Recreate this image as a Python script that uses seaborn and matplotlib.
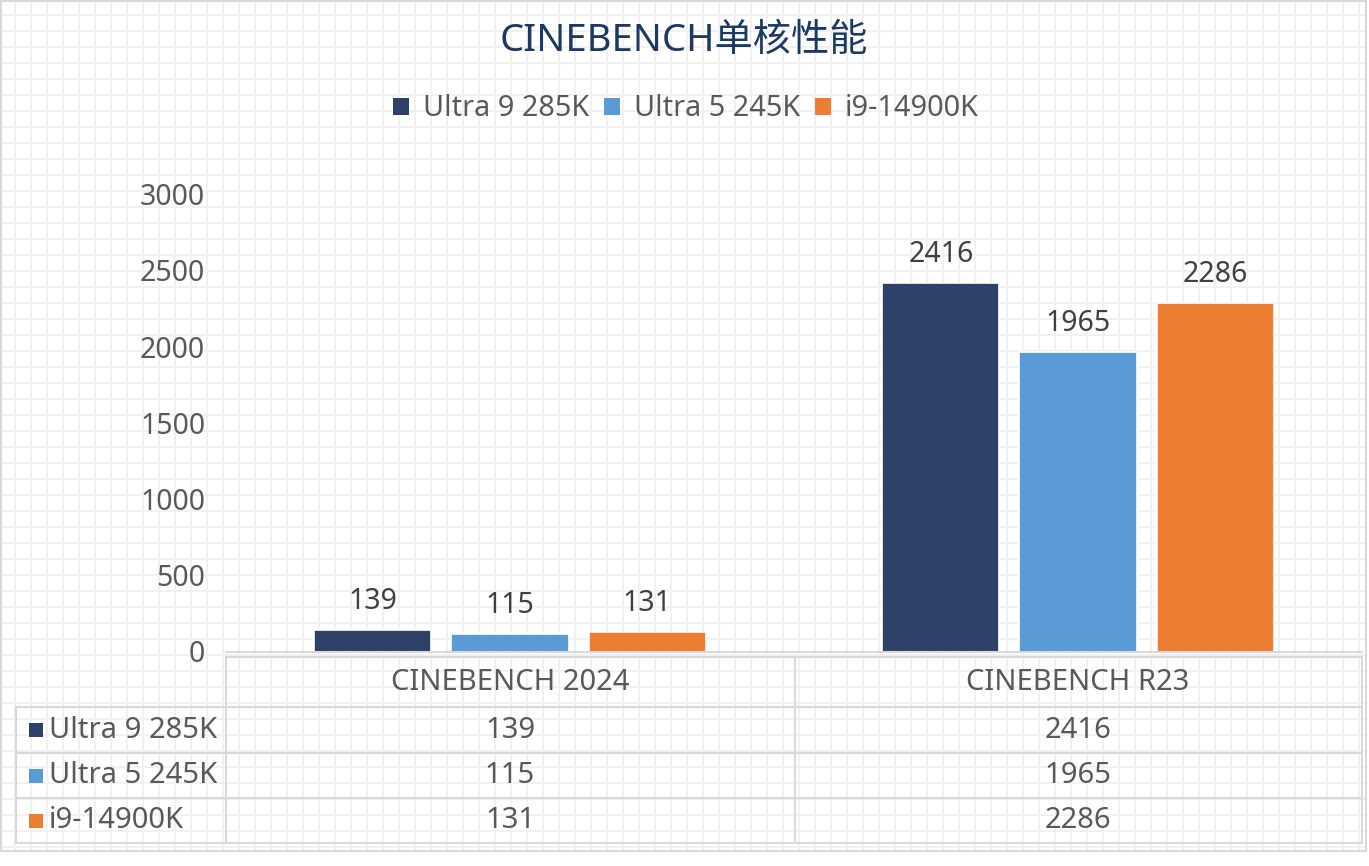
import numpy as np
import pandas as pd
import matplotlib
matplotlib.use("Agg")
import matplotlib.pyplot as plt
import matplotlib.transforms as mtransforms
from matplotlib.patches import Rectangle
import seaborn as sns

# ---------------- data ----------------
title = "CINEBENCH单核性能"
categories = ["CINEBENCH 2024", "CINEBENCH R23"]
series_names = ["Ultra 9 285K", "Ultra 5 245K", "i9-14900K"]
ultra9_285k = [139, 2416]
ultra5_245k = [115, 1965]
i9_14900k = [131, 2286]
y_ticks = [0, 500, 1000, 1500, 2000, 2500, 3000]
colors = ["#2e4169", "#5b9bd5", "#ed7d31"]

values = [ultra9_285k, ultra5_245k, i9_14900k]
df = pd.DataFrame({
    "category": [c for s in series_names for c in categories],
    "series": [s for s in series_names for _ in categories],
    "value": [v for vals in values for v in vals],
})

# ---------------- style ----------------
sns.set_theme(style="white")
plt.rcParams["font.family"] = ["Noto Sans", "Noto Sans CJK SC", "DejaVu Sans"]

W, H = 1369, 866
fig = plt.figure(figsize=(W / 100, H / 100), dpi=100)
fig.patch.set_facecolor("white")

# background layer (pixel coordinates)
bg = fig.add_axes([0, 0, 1, 1], zorder=0)
bg.set_xlim(0, W)
bg.set_ylim(H, 0)
bg.axis("off")
grid_c = "#f1f1f1"
bx0, by0, bx1, by1 = 1, 1, 1366, 851
for gx in np.arange(15, bx1, 16):
    bg.plot([gx, gx], [by0, by1], color=grid_c, lw=1.4, solid_capstyle="butt", zorder=1)
for gy in np.arange(15, by1, 16):
    bg.plot([bx0, bx1], [gy, gy], color=grid_c, lw=1.4, solid_capstyle="butt", zorder=1)
bg.add_patch(Rectangle((bx0, by0), bx1 - bx0, by1 - by0, fill=False,
                       edgecolor="#d9d9d9", lw=1.5, zorder=2))

# main axes
ax_left, ax_right = 226 / W, 1362 / W
ax_bot, ax_top = (H - 651.5) / H, (H - 194) / H
ax = fig.add_axes([ax_left, ax_bot, ax_right - ax_left, ax_top - ax_bot], zorder=2)
ax.patch.set_alpha(0)

sns.barplot(data=df, x="category", y="value", hue="series", order=categories,
            hue_order=series_names, palette=colors, width=0.724, gap=0.146,
            edgecolor="white", linewidth=1.2, saturation=1, ax=ax, legend=False)

ax.set_xlim(-0.5, len(categories) - 0.5)
ax.set_ylim(0, 3000)
ax.set_yticks(y_ticks)
ax.set_yticklabels([str(t) for t in y_ticks])
ax.set_xticks([])
ax.set_xlabel("")
ax.set_ylabel("")
ax.tick_params(axis="y", length=0, pad=15, labelsize=20.5, labelcolor="#595959")
for side in ["left", "right", "top"]:
    ax.spines[side].set_visible(False)
ax.spines["bottom"].set_color("#d9d9d9")
ax.spines["bottom"].set_linewidth(1.5)
ax.grid(False)

for cont in ax.containers:
    ax.bar_label(cont, fmt="%d", padding=10, fontsize=20.5, color="#404040")

# legend
handles = [Rectangle((0, 0), 1, 1, facecolor=c, edgecolor="none") for c in colors]
fig.legend(handles, series_names, loc="center", bbox_to_anchor=(686 / W, 1 - 109 / H),
           ncol=3, frameon=False, fontsize=20.8, labelcolor="#595959",
           handlelength=0.55, handleheight=0.55, handletextpad=0.5,
           columnspacing=0.5, borderpad=0, borderaxespad=0)

# title
fig.text(684 / W, 1 - 41 / H, title, ha="center", va="center", fontsize=27.5,
         color="#1b3a63")

# ---------------- data table ----------------
line_c = "#d9d9d9"
tbl_left, col0, col_mid, col_right = 16, 226, 795, 1362
y_head_top, row_lines = 657, [707, 753, 798, 843]
bg.plot([col0, col_right], [y_head_top, y_head_top], color=line_c, lw=1.5, zorder=2)
for ry in row_lines:
    bg.plot([tbl_left, col_right], [ry, ry], color=line_c, lw=1.5, zorder=2)
for cx in [col0, col_mid, col_right]:
    bg.plot([cx, cx], [y_head_top, row_lines[-1]], color=line_c, lw=1.5, zorder=2)
bg.plot([tbl_left, tbl_left], [row_lines[0], row_lines[-1]], color=line_c, lw=1.5, zorder=2)

trans = mtransforms.blended_transform_factory(ax.transData, bg.transData)
for i, cat in enumerate(categories):
    fig.text(i, (y_head_top + row_lines[0]) / 2, cat, transform=trans,
             ha="center", va="center", fontsize=21, color="#595959")
for r, (name, vals, c) in enumerate(zip(series_names, values, colors)):
    yc = (row_lines[r] + row_lines[r + 1]) / 2
    bg.add_patch(Rectangle((29, yc - 7), 14, 14, facecolor=c, edgecolor="none", zorder=3))
    bg.text(49, yc, name, ha="left", va="center", fontsize=21, color="#595959", zorder=3)
    for i, v in enumerate(vals):
        fig.text(i, yc, str(v), transform=trans, ha="center", va="center",
                 fontsize=21, color="#595959")

fig.savefig("out.png", dpi=100, facecolor="white")
